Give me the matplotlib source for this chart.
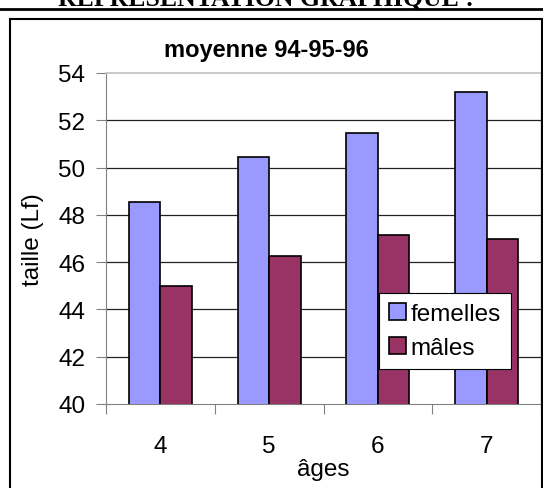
#!/usr/bin/env python

import numpy as np
import matplotlib
matplotlib.use("Agg")
import matplotlib.pyplot as plt
from matplotlib.patches import Rectangle
from matplotlib.lines import Line2D

# data
ages = ["4", "5", "6", "7"]
femelles = [48.56, 50.43, 51.46, 53.21]
males = [44.97, 46.27, 47.16, 46.97]
yticks = [40, 42, 44, 46, 48, 50, 52, 54]

COL_F = "#9999FF"
COL_M = "#993366"


def main():
    plt.rcParams["font.family"] = ["Liberation Sans", "DejaVu Sans"]
    W, H = 543, 489
    fig = plt.figure(figsize=(W / 100, H / 100), dpi=100)
    fig.patch.set_facecolor("white")

    # heading of the page, mostly cut off at the top
    fig.text(266 / W, 1 - 6 / H, "REPRÉSENTATION GRAPHIQUE :", ha="center",
             va="baseline", fontsize=18.5, fontweight="bold",
             family="Liberation Serif")
    fig.add_artist(Line2D([0, 1], [1 - 10 / H, 1 - 10 / H], color="black",
                          lw=2.0, transform=fig.transFigure))

    # chart border
    fig.add_artist(Rectangle((10 / W, -0.05), (541.5 - 10) / W, 1.05 - 20 / H,
                             fill=False, edgecolor="black", lw=1.5,
                             transform=fig.transFigure, clip_on=False))

    ax = fig.add_axes([106 / W, 1 - 405 / H, (541 - 106) / W, (405 - 74) / H])

    x = np.arange(len(ages))
    w = 0.29
    bf = ax.bar(x - w / 2, femelles, w, color=COL_F, edgecolor="black",
                lw=1.2, zorder=3, label="femelles")
    bm = ax.bar(x + w / 2, males, w, color=COL_M, edgecolor="black",
                lw=1.2, zorder=3, label="mâles")

    ax.set_ylim(40, 54)
    ax.set_xlim(-0.5, len(ages) - 0.5)
    ax.set_yticks(yticks)
    ax.tick_params(axis="y", labelsize=17.5, length=7, width=0.8,
                   color="#808080", pad=8)

    # ticks between categories, labels centred under them
    ax.set_xticks(np.arange(len(ages) + 1) - 0.5)
    ax.set_xticklabels([])
    ax.tick_params(axis="x", which="major", length=7, width=0.8,
                   color="#808080")
    ax.set_xticks(x, minor=True)
    ax.set_xticklabels(ages, minor=True)
    ax.tick_params(axis="x", which="minor", length=0, labelsize=17.5, pad=22)

    for yv in yticks[1:-1]:
        ax.axhline(yv, color="#222222", lw=0.9, zorder=1)

    ax.spines["top"].set_color("#c0c0c0")
    ax.spines["top"].set_linewidth(1.2)
    ax.spines["left"].set_color("#808080")
    ax.spines["bottom"].set_color("#808080")
    ax.spines["right"].set_color("black")

    ax.set_ylabel("taille (Lf)", fontsize=17.5, labelpad=10)
    ax.set_xlabel("âges", fontsize=17.5, labelpad=1)
    fig.text(266 / W, 1 - 51 / H, "moyenne 94-95-96", ha="center",
             va="center", fontsize=17, fontweight="bold")

    leg = ax.legend(handles=[bf, bm], loc="upper left",
                    bbox_to_anchor=(379 / W, 1 - 294 / H),
                    bbox_transform=fig.transFigure, fontsize=17.5,
                    frameon=True, fancybox=False, framealpha=1,
                    edgecolor="black", borderpad=0.4, labelspacing=0.5,
                    handlelength=0.7, handleheight=0.7,
                    handletextpad=0.2, borderaxespad=0)
    leg.get_frame().set_linewidth(0.8)
    leg.set_zorder(5)

    fig.savefig("out.png", dpi=100)
    plt.close(fig)


if __name__ == "__main__":
    main()
